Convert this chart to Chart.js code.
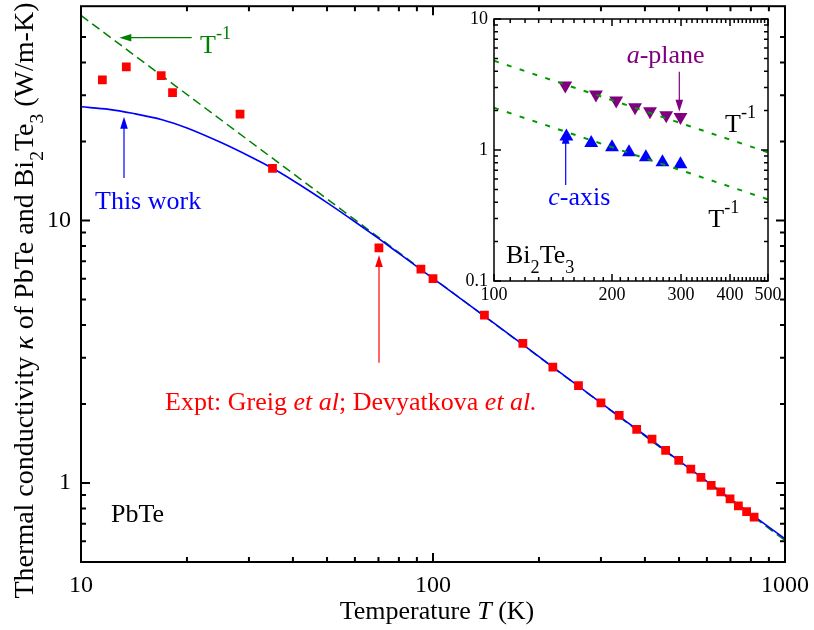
<!DOCTYPE html>
<html>
<head>
<meta charset="utf-8">
<script src="https://cdn.jsdelivr.net/npm/chart.js@4/dist/chart.umd.min.js"></script>
<style>
  html, body { margin: 0; padding: 0; background: #fff; }
  #wrap { position: relative; width: 814px; height: 630px; }
  #main { position: absolute; left: 0; top: 0; }
  #inset { position: absolute; left: 440px; top: 0; }
</style>
</head>
<body>
<div id="wrap">
  <canvas id="main" width="814" height="630"></canvas>
  <canvas id="inset" width="360" height="320"></canvas>
</div>
<script>
// ---------- PbTe (main panel) ----------
// Measured thermal conductivity (Greig et al; Devyatkova et al.)
const exptT     = [11.5, 13.45, 16.9, 18.2, 28.3, 35.0, 70.2, 92.4, 100, 140, 180, 219, 259, 300, 338, 379, 419, 458, 499, 540, 577, 617, 657, 698, 737, 778, 817];
const exptKappa = [34.3, 38.5, 35.6, 30.7, 25.4, 15.8, 7.87, 6.52, 6.0, 4.36, 3.40, 2.76, 2.35, 2.02, 1.81, 1.60, 1.47, 1.33, 1.22, 1.13, 1.05, 0.98, 0.924, 0.870, 0.818, 0.778, 0.741];
// Calculated curve ("This work")
const calcT     = [10, 12, 14, 17, 20, 25, 30, 35, 40, 50, 60, 70, 80, 90, 100, 150, 200, 300, 400, 500, 600, 700, 800, 900, 1000];
const calcKappa = [27.1, 26.5, 25.6, 24.2, 22.5, 19.8, 17.6, 15.8, 14.2, 11.7, 9.89, 8.54, 7.49, 6.67, 6.02, 4.04, 3.03, 2.02, 1.52, 1.215, 1.015, 0.87, 0.762, 0.679, 0.613];
// T^-1 guide line (end points)
const guideT     = [10, 1000];
const guideKappa = [60.4, 0.604];
// Axis tick labels
const mainXTicks = [10, 100, 1000];
const mainYTicks = [1, 10];

// ---------- Bi2Te3 (inset) ----------
const aPlaneT     = [152, 182, 205, 229, 250, 275, 299];
const aPlaneKappa = [3.11, 2.65, 2.39, 2.12, 1.98, 1.84, 1.79];
const cAxisT      = [153, 177, 200, 221, 244, 269, 299];
const cAxisKappa  = [1.27, 1.13, 1.05, 0.96, 0.88, 0.805, 0.777];
const guideAT     = [100, 500];
const guideAKappa = [4.8, 0.96];
const guideCT     = [100, 500];
const guideCKappa = [2.1, 0.42];
const insetXTicks = [100, 200, 300, 400, 500];
const insetYTicks = [0.1, 1, 10];

// ---------- helpers ----------
const FONT = '"Liberation Serif", "Times New Roman", serif';
const pts = (xs, ys) => xs.map((x, i) => ({ x: x, y: ys[i] }));

function decadeMinors(lo, hi) {
  const out = [];
  for (let d = Math.pow(10, Math.floor(Math.log10(lo))); d < hi; d *= 10) {
    for (let m = 2; m <= 9; m++) {
      const v = +(m * d).toPrecision(6);
      if (v > lo && v < hi) out.push(v);
    }
  }
  return out;
}
// keep the plot box exactly where the layout padding puts it
function noLabelPadding(s) {
  s.paddingTop = 0; s.paddingBottom = 0; s.paddingLeft = 0; s.paddingRight = 0;
}

function segFont(seg, size) {
  if (seg.s === 'sub' || seg.s === 'sup') return (size * 0.7).toFixed(1) + 'px ' + FONT;
  return (seg.s === 'i' ? 'italic ' : '') + size + 'px ' + FONT;
}
function segDy(seg, size) {
  if (seg.s === 'sub') return size * 0.36;
  if (seg.s === 'sup') return -size * 0.54;
  return 0;
}
function drawRich(ctx, segs, x, y, size, color, align) {
  ctx.save();
  ctx.fillStyle = color;
  ctx.textBaseline = 'alphabetic';
  ctx.textAlign = 'left';
  let w = 0;
  for (const g of segs) { ctx.font = segFont(g, size); w += ctx.measureText(g.t).width; }
  let cx = align === 'center' ? x - w / 2 : (align === 'right' ? x - w : x);
  for (const g of segs) {
    ctx.font = segFont(g, size);
    ctx.fillText(g.t, cx, y + segDy(g, size));
    cx += ctx.measureText(g.t).width;
  }
  ctx.restore();
}
function arrow(ctx, x1, y1, x2, y2, color) {
  const ang = Math.atan2(y2 - y1, x2 - x1), L = 12, H = 3.8;
  const c = Math.cos(ang), s = Math.sin(ang);
  ctx.save();
  ctx.strokeStyle = color; ctx.fillStyle = color; ctx.lineWidth = 1.2;
  ctx.beginPath(); ctx.moveTo(x1, y1); ctx.lineTo(x2 - c * L * 0.8, y2 - s * L * 0.8); ctx.stroke();
  ctx.beginPath();
  ctx.moveTo(x2, y2);
  ctx.lineTo(x2 - c * L - s * H, y2 - s * L + c * H);
  ctx.lineTo(x2 - c * L + s * H, y2 - s * L - c * H);
  ctx.closePath(); ctx.fill();
  ctx.restore();
}
// Box frame with inward tick marks on all four sides
function drawFrame(chart, o) {
  const { ctx, chartArea: a } = chart;
  const x = chart.scales.x, y = chart.scales.y;
  ctx.save();
  ctx.strokeStyle = '#000';
  ctx.lineWidth = o.lw;
  ctx.beginPath();
  const xt = (vals, len) => vals.forEach(v => {
    const p = x.getPixelForValue(v);
    if (p < a.left - 0.5 || p > a.right + 0.5) return;
    ctx.moveTo(p, a.bottom); ctx.lineTo(p, a.bottom - len);
    ctx.moveTo(p, a.top); ctx.lineTo(p, a.top + len);
  });
  const yt = (vals, len) => vals.forEach(v => {
    const p = y.getPixelForValue(v);
    if (p < a.top - 0.5 || p > a.bottom + 0.5) return;
    ctx.moveTo(a.left, p); ctx.lineTo(a.left + len, p);
    ctx.moveTo(a.right, p); ctx.lineTo(a.right - len, p);
  });
  xt(o.xMajor, o.major); xt(o.xMinor, o.minor);
  yt(o.yMajor, o.major); yt(o.yMinor, o.minor);
  ctx.stroke();
  ctx.strokeRect(a.left, a.top, a.right - a.left, a.bottom - a.top);
  ctx.restore();
}

// ---------- main panel ----------
const mainDecor = {
  id: 'mainDecor',
  afterDraw(chart) {
    const ctx = chart.ctx;
    drawFrame(chart, {
      lw: 2, major: 9, minor: 5,
      xMajor: mainXTicks, xMinor: decadeMinors(10, 1000),
      yMajor: mainYTicks, yMinor: decadeMinors(0.5, 55)
    });
    // axis titles
    drawRich(ctx, [{ t: 'Temperature ' }, { t: 'T', s: 'i' }, { t: ' (K)' }], 437, 619, 26, '#000', 'center');
    ctx.save();
    ctx.translate(33, 300.5);
    ctx.rotate(-Math.PI / 2);
    drawRich(ctx, [
      { t: 'Thermal conductivity ' }, { t: 'κ', s: 'i' }, { t: ' of PbTe and Bi' },
      { t: '2', s: 'sub' }, { t: 'Te' }, { t: '3', s: 'sub' }, { t: ' (W/m-K)' }
    ], 0, 0, 28, '#000', 'center');
    ctx.restore();
    // annotations
    arrow(ctx, 191.7, 37.7, 119.3, 37.7, '#008000');
    drawRich(ctx, [{ t: 'T' }, { t: '-1', s: 'sup' }], 200, 53, 26, '#008000', 'left');
    arrow(ctx, 124, 178, 124, 116.7, '#0000ff');
    drawRich(ctx, [{ t: 'This work' }], 95, 209, 26, '#0000ff', 'left');
    arrow(ctx, 379, 362.7, 379, 255, '#ff0000');
    drawRich(ctx, [{ t: 'Expt: Greig ' }, { t: 'et al', s: 'i' }, { t: '; Devyatkova ' }, { t: 'et al.', s: 'i' }],
      165, 410, 26, '#ff0000', 'left');
    drawRich(ctx, [{ t: 'PbTe' }], 111, 521.7, 26, '#000', 'left');
  }
};

new Chart(document.getElementById('main'), {
  type: 'scatter',
  data: {
    datasets: [
      {
        label: 'Expt', data: pts(exptT, exptKappa),
        pointStyle: 'rect', pointRadius: 6.2, pointHoverRadius: 6.2,
        pointBackgroundColor: '#ff0000', pointBorderWidth: 0, order: 0
      },
      {
        label: 'This work', data: pts(calcT, calcKappa), showLine: true,
        pointRadius: 0, borderColor: '#0000ff', borderWidth: 1.6,
        cubicInterpolationMode: 'monotone', order: 1
      },
      {
        label: 'T^-1', data: pts(guideT, guideKappa), showLine: true,
        pointRadius: 0, borderColor: '#008000', borderWidth: 1.5,
        borderDash: [9, 5], order: 2
      }
    ]
  },
  options: {
    responsive: false, animation: false, devicePixelRatio: 1, events: [],
    layout: { padding: { top: 4, right: 29, left: 0, bottom: 0 } },
    plugins: { legend: { display: false }, tooltip: { enabled: false } },
    scales: {
      x: {
        type: 'logarithmic', min: 10, max: 1000,
        afterBuildTicks: s => { s.ticks = mainXTicks.map(v => ({ value: v })); },
        afterFit: s => { s.height = 68; noLabelPadding(s); },
        grid: { display: false, drawTicks: false }, border: { display: false },
        ticks: {
          autoSkip: false, maxRotation: 0, padding: 9, color: '#000',
          font: { family: FONT, size: 24 }, callback: v => String(v)
        }
      },
      y: {
        type: 'logarithmic', min: 0.5, max: 65.5,
        afterBuildTicks: s => { s.ticks = mainYTicks.map(v => ({ value: v })); },
        afterFit: s => { s.width = 81; noLabelPadding(s); },
        grid: { display: false, drawTicks: false }, border: { display: false },
        ticks: {
          autoSkip: false, padding: 10, color: '#000',
          font: { family: FONT, size: 24 }, callback: v => String(v)
        }
      }
    }
  },
  plugins: [mainDecor]
});

// ---------- inset ----------
const OX = 440; // inset canvas left offset on the page
const insetDecor = {
  id: 'insetDecor',
  beforeDatasetsDraw(chart) {
    const { ctx, chartArea: a } = chart;
    ctx.save(); ctx.fillStyle = '#fff';
    ctx.fillRect(a.left, a.top, a.right - a.left, a.bottom - a.top);
    ctx.restore();
  },
  afterDraw(chart) {
    const ctx = chart.ctx;
    const xm = [];
    for (let v = 110; v < 500; v += 10) if (!insetXTicks.includes(v)) xm.push(v);
    drawFrame(chart, {
      lw: 1.5, major: 7, minor: 4,
      xMajor: insetXTicks, xMinor: xm,
      yMajor: insetYTicks, yMinor: decadeMinors(0.1, 10)
    });
    drawRich(ctx, [{ t: 'a', s: 'i' }, { t: '-plane' }], 626.7 - OX, 63, 26, '#800080', 'left');
    arrow(ctx, 679.3 - OX, 71.7, 679.3 - OX, 111.7, '#800080');
    drawRich(ctx, [{ t: 'c', s: 'i' }, { t: '-axis' }], 548.3 - OX, 205, 26, '#0000ff', 'left');
    arrow(ctx, 565.7 - OX, 185, 565.7 - OX, 131.7, '#0000ff');
    drawRich(ctx, [{ t: 'T' }, { t: '-1', s: 'sup' }], 725 - OX, 131.7, 26, '#000', 'left');
    drawRich(ctx, [{ t: 'T' }, { t: '-1', s: 'sup' }], 708.3 - OX, 226.7, 26, '#000', 'left');
    drawRich(ctx, [{ t: 'Bi' }, { t: '2', s: 'sub' }, { t: 'Te' }, { t: '3', s: 'sub' }], 506 - OX, 263.3, 26, '#000', 'left');
  }
};

new Chart(document.getElementById('inset'), {
  type: 'scatter',
  data: {
    datasets: [
      {
        label: 'a-plane guide', data: pts(guideAT, guideAKappa), showLine: true,
        pointRadius: 0, borderColor: '#009a00', borderWidth: 2, borderDash: [5, 8.5], order: 0
      },
      {
        label: 'c-axis guide', data: pts(guideCT, guideCKappa), showLine: true,
        pointRadius: 0, borderColor: '#009a00', borderWidth: 2, borderDash: [5, 8.5], order: 0
      },
      {
        label: 'a-plane', data: pts(aPlaneT, aPlaneKappa),
        pointStyle: 'triangle', rotation: 180, pointRadius: 8, pointHoverRadius: 8,
        pointBackgroundColor: '#800080', pointBorderWidth: 0, order: 1
      },
      {
        label: 'c-axis', data: pts(cAxisT, cAxisKappa),
        pointStyle: 'triangle', pointRadius: 8, pointHoverRadius: 8,
        pointBackgroundColor: '#0000ff', pointBorderWidth: 0, order: 1
      }
    ]
  },
  options: {
    responsive: false, animation: false, devicePixelRatio: 1, events: [],
    layout: { padding: { top: 19, right: 32, left: 0, bottom: 0 } },
    plugins: { legend: { display: false }, tooltip: { enabled: false } },
    scales: {
      x: {
        type: 'logarithmic', min: 100, max: 500,
        afterBuildTicks: s => { s.ticks = insetXTicks.map(v => ({ value: v })); },
        afterFit: s => { s.height = 39; noLabelPadding(s); },
        grid: { display: false, drawTicks: false }, border: { display: false },
        ticks: {
          autoSkip: false, maxRotation: 0, padding: 3, color: '#000',
          font: { family: FONT, size: 18 }, callback: v => String(v)
        }
      },
      y: {
        type: 'logarithmic', min: 0.1, max: 10,
        afterBuildTicks: s => { s.ticks = insetYTicks.map(v => ({ value: v })); },
        afterFit: s => { s.width = 54; noLabelPadding(s); },
        grid: { display: false, drawTicks: false }, border: { display: false },
        ticks: {
          autoSkip: false, padding: 6, color: '#000',
          font: { family: FONT, size: 18 }, callback: v => String(v)
        }
      }
    }
  },
  plugins: [insetDecor]
});
</script>
</body>
</html>
